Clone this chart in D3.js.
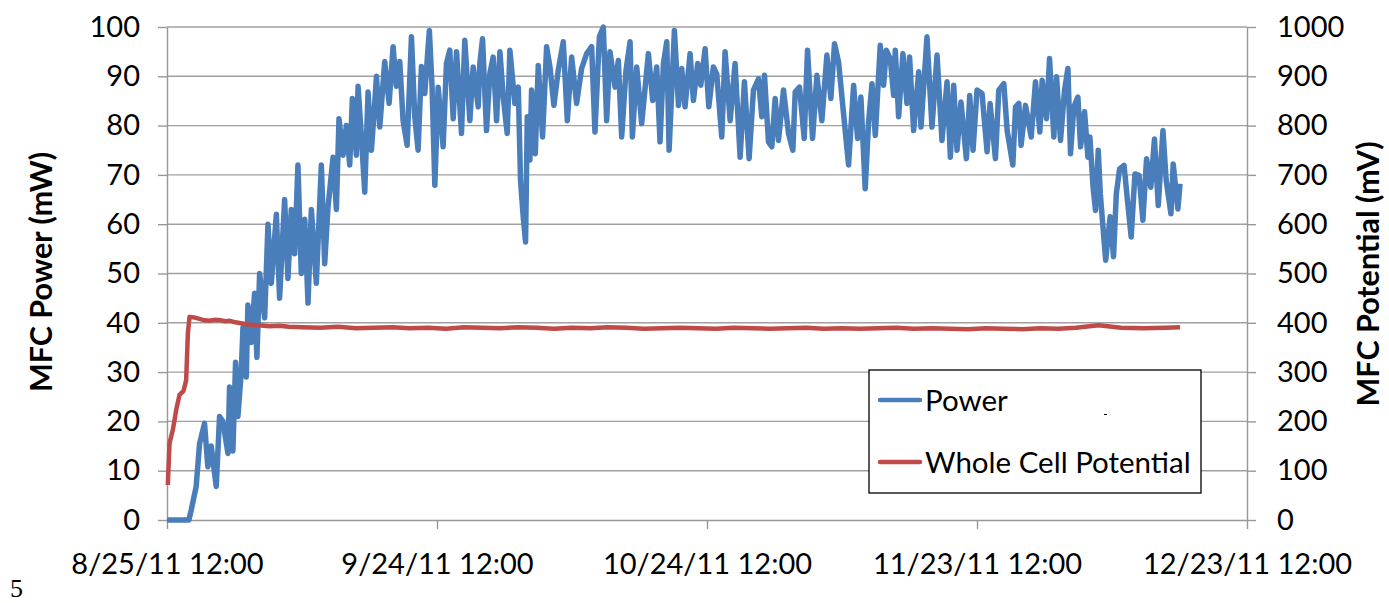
<!DOCTYPE html>
<html>
<head>
<meta charset="utf-8">
<script src="https://cdn.jsdelivr.net/npm/d3@7"></script>
<style>
  body { margin: 0; background: #fff; }
  svg { display: block; }
  .tick text { font-family: Lato, "Open Sans", sans-serif; font-size: 29px; fill: #000; }
  .domain, .tick line { stroke: #989898; stroke-width: 1.4px; }
</style>
</head>
<body>
<div id="chart"></div>
<script>
// Start of the x axis and tick labels.
var startDate = new Date(Date.UTC(2011, 7, 25, 12));
var xTickDays = [0, 30, 60, 90, 120];
var xTickLabels = ["8/25/11 12:00", "9/24/11 12:00", "10/24/11 12:00", "11/23/11 12:00", "12/23/11 12:00"];
var powerTicks = [0, 10, 20, 30, 40, 50, 60, 70, 80, 90, 100];
var potentialTicks = [0, 100, 200, 300, 400, 500, 600, 700, 800, 900, 1000];

// Power (mW): days since start and value.
var powerDays = [0, 2.43, 2.69, 3.24, 3.62, 4.17, 4.54, 4.91, 5.47, 5.84, 6.21, 6.77, 6.95, 7.32, 7.62, 7.88,
  8.25, 8.44, 8.81, 8.99, 9.36, 9.73, 9.99, 10.29, 10.85, 11.22, 11.59, 12.15, 12.51, 13.07, 13.44, 13.81,
  14.18, 14.55, 14.92, 15.3, 15.67, 16.04, 16.59, 17.15, 17.52, 17.89, 18.45, 18.82, 19.11, 19.56, 19.93,
  20.3, 20.6, 21.04, 21.23, 21.6, 21.97, 22.34, 22.71, 23.08, 23.27, 23.64, 24.19, 24.68, 25.12, 25.49,
  25.86, 26.23, 26.68, 27.16, 27.53, 27.9, 28.27, 28.64, 29.15, 29.45, 29.76, 30.13, 30.68, 31.05, 31.42,
  31.8, 32.17, 32.72, 33.09, 33.65, 34.02, 34.58, 34.76, 35.06, 35.5, 35.87, 36.24, 36.62, 36.99, 37.36,
  37.8, 38.1, 38.65, 39.03, 39.28, 39.58, 39.84, 40.03, 40.32, 40.51, 40.92, 41.25, 41.73, 42.18, 42.55,
  42.99, 43.47, 44.03, 44.48, 44.96, 45.51, 46.07, 46.63, 47.18, 47.55, 48.04, 48.48, 48.85, 49.22, 49.78,
  50.15, 50.52, 51.0, 51.45, 51.71, 52.19, 52.74, 53.49, 53.97, 54.41, 54.78, 55.16, 55.53, 55.79, 56.38,
  56.83, 57.19, 57.56, 58.12, 58.49, 58.97, 59.31, 59.79, 60.2, 60.71, 61.08, 61.64, 62.01, 62.57, 63.12,
  63.68, 64.16, 64.68, 65.16, 65.72, 66.09, 66.39, 66.83, 67.2, 67.57, 67.94, 68.5, 69.06, 69.54, 69.8,
  70.28, 70.8, 71.17, 71.73, 72.21, 72.76, 73.32, 73.76, 74.17, 74.62, 75.1, 75.73, 76.29, 76.73, 77.1,
  77.58, 77.95, 78.33, 78.7, 79.25, 79.62, 79.92, 80.36, 80.74, 80.92, 81.29, 81.77, 82.22, 82.51, 82.96,
  83.52, 83.78, 84.44, 85.0, 85.56, 86.11, 86.67, 87.04, 87.41, 87.78, 88.22, 88.82, 89.19, 89.56, 90.0,
  90.56, 91.12, 91.45, 92.05, 92.42, 92.98, 93.35, 93.98, 94.28, 94.65, 94.9, 95.39, 96.02, 96.5, 96.98,
  97.24, 97.72, 98.06, 98.54, 98.84, 99.28, 99.73, 100.1, 100.39, 100.76, 101.21, 101.51, 101.95, 102.32,
  102.54, 102.9, 103.17, 103.47, 103.7, 104.0, 104.3, 104.79, 105.17, 105.48, 105.84, 106.34, 106.72,
  107.13, 107.55, 108.01, 108.43, 108.84, 109.31, 109.72, 110.14, 110.66, 111.02, 111.55, 111.8, 112.32, 112.56];
var powerValues = [0, 0, 2, 6.8, 15.5, 19.6, 10.8, 15, 6.8, 21, 20, 13.5, 27, 14, 32, 21,
  30, 39, 29, 43.6, 36, 46, 33, 50, 41, 60, 48, 62, 45, 65, 49, 63,
  54, 72, 50, 61, 44, 63, 48, 72, 52, 63.5, 73.6, 63, 81.4, 74, 80,
  72, 85.5, 74, 88, 77.7, 66.5, 86.8, 75, 84.5, 90, 79.7, 93, 84.5, 96, 88,
  93, 81, 76, 98, 81.8, 75, 92, 86.5, 99.3, 88, 67.9, 87.8, 75.7, 92.6, 95.3,
  81.4, 95, 78.4, 97.3, 81, 91.9, 83.8, 92.6, 97.6, 79, 90.5, 93.9, 81, 95, 85.8,
  78.4, 95.3, 84.5, 87.8, 68.9, 61.5, 56.4, 81.8, 73, 87.2, 74.3, 92.2, 77.7, 96, 91.9,
  84.1, 91.2, 97, 81, 93.9, 84.5, 91.6, 94.6, 96, 78.7, 98, 100, 81, 95, 87.8,
  93.2, 77.7, 91.2, 97, 77.7, 91.9, 80.4, 94.6, 85.1, 91.9, 76.7, 92.6, 97, 75, 99.3,
  84.1, 91.6, 83.8, 94.6, 85.1, 92.6, 88.2, 95.6, 83.8, 91.9, 90.5, 77.7, 95, 81, 92.6,
  73.6, 88.9, 73.3, 87.2, 89.5, 81.8, 90.2, 76.7, 75.7, 85.5, 77, 87.2, 78.4, 75, 86.8,
  87.8, 77.4, 95.3, 77.4, 90.2, 81, 94.3, 85.5, 96.6, 92.9, 83.8, 72, 88.2, 77.4, 85.8,
  67.2, 80.7, 88.5, 78, 96.3, 88.2, 95.3, 93.6, 86.1, 95.3, 81.8, 94.6, 84.5, 93.9, 79,
  90.9, 79.7, 98, 79.7, 94.3, 77, 88.9, 73.6, 88.2, 75, 84.8, 73.3, 86.1, 75, 87.2,
  86.5, 74.7, 84.5, 73.3, 87.2, 88.5, 79, 72, 83.8, 84.5, 76, 84.1, 77.7, 88.9, 78.7,
  89.2, 81.4, 93.6, 77.7, 89.9, 77, 87.2, 91.6, 74.3, 83.8, 85.8, 75.7, 82.8, 73.6,
  77.7, 67.5, 62.8, 75, 66.2, 59.4, 52.7, 61.5, 53.4, 66.2, 71.2, 71.9, 64.8,
  57.4, 70.2, 69.9, 60.8, 73.3, 67.5, 77.3, 63.8, 79, 68.9, 62.1, 72.2, 63.1, 68.2];

// Whole cell potential (mV).
var potentialDays = [0.09, 0.28, 0.65, 1.02, 1.39, 1.84, 2.13, 2.32, 2.5, 3.0, 3.6, 4.2, 4.7, 5.3, 6.0, 6.5,
  7.0, 7.6, 8.2, 9.2, 10.2, 11.4, 12.5, 13.5, 15, 17, 19, 21, 23, 25, 27, 29, 31, 33, 35, 37, 39, 41, 43,
  45, 47, 49, 51, 53, 55, 57, 59, 61, 63, 65, 67, 69, 71, 73, 75, 77, 79, 81, 83, 85, 87, 89, 91, 93, 95,
  97, 99, 101, 102.5, 103.5, 106, 108.5, 111, 112.56];
var potentialValues = [71, 156, 183, 223, 254, 262, 284, 379, 412, 411, 408, 405, 404, 406, 405, 403,
  404, 401, 399, 396, 395, 393, 394, 392, 391, 390, 392, 389, 390, 391, 389, 390, 388, 391, 390, 389,
  391, 390, 388, 390, 389, 391, 390, 388, 389, 390, 389, 388, 390, 389, 388, 389, 390, 388, 389, 388,
  389, 390, 388, 389, 388, 387, 389, 388, 387, 389, 388, 390, 393, 395, 390, 389, 390, 391];

var margin = { top: 27, right: 142, bottom: 83, left: 167 },
    svgWidth = 1389,
    svgHeight = 603,
    chartWidth = svgWidth - margin.left - margin.right,
    chartHeight = svgHeight - margin.top - margin.bottom;

var svg = d3.select("#chart")
    .append("svg")
    .attr("width", svgWidth)
    .attr("height", svgHeight);

var chartGroup = svg.append("g")
    .attr("transform", `translate(${margin.left}, ${margin.top})`);

function dayToDate(d) {
    return new Date(startDate.getTime() + d * 864e5);
}

// Scales.
var xScale = d3.scaleUtc()
    .domain([startDate, dayToDate(120)])
    .range([0, chartWidth]);
var yLeft = d3.scaleLinear().domain([0, 100]).range([chartHeight, 0]);
var yRight = d3.scaleLinear().domain([0, 1000]).range([chartHeight, 0]);

// Gridlines.
chartGroup.append("g")
    .selectAll("line")
    .data(powerTicks.slice(1))
    .enter()
    .append("line")
    .attr("x1", 0)
    .attr("x2", chartWidth)
    .attr("y1", d => yLeft(d))
    .attr("y2", d => yLeft(d))
    .attr("stroke", "#a0a0a0")
    .attr("stroke-width", 1.4);

// Axes.
var leftAxis = d3.axisLeft(yLeft).tickValues(powerTicks).tickSize(9).tickSizeOuter(0).tickPadding(18);
var rightAxis = d3.axisRight(yRight).tickValues(potentialTicks).tickFormat(d3.format("d"))
    .tickSize(9).tickSizeOuter(0).tickPadding(21);
var bottomAxis = d3.axisBottom(xScale)
    .tickValues(xTickDays.map(dayToDate))
    .tickFormat((d, i) => xTickLabels[i])
    .tickSize(9).tickSizeOuter(0).tickPadding(24);

chartGroup.append("g").call(leftAxis);
chartGroup.append("g")
    .attr("transform", `translate(${chartWidth}, 0)`)
    .call(rightAxis);
chartGroup.append("g")
    .attr("transform", `translate(0, ${chartHeight})`)
    .call(bottomAxis);

// Series lines.
var powerLine = d3.line()
    .x((d, i) => xScale(dayToDate(powerDays[i])))
    .y(d => yLeft(d));
var potentialLine = d3.line()
    .x((d, i) => xScale(dayToDate(potentialDays[i])))
    .y(d => yRight(d));

chartGroup.append("path")
    .attr("d", powerLine(powerValues))
    .attr("fill", "none")
    .attr("stroke", "#4a7ebb")
    .attr("stroke-width", 5.5)
    .attr("stroke-linejoin", "round");

chartGroup.append("path")
    .attr("d", potentialLine(potentialValues))
    .attr("fill", "none")
    .attr("stroke", "#be4b48")
    .attr("stroke-width", 4.5)
    .attr("stroke-linejoin", "round");

// Axis titles.
svg.append("text")
    .attr("transform", "translate(52, 272) rotate(-90)")
    .attr("text-anchor", "middle")
    .style("font-family", "Lato, sans-serif")
    .style("font-size", "30.5px")
    .style("font-weight", "bold")
    .text("MFC Power (mW)");

svg.append("text")
    .attr("transform", "translate(1379, 274) rotate(-90)")
    .attr("text-anchor", "middle")
    .style("font-family", "Lato, sans-serif")
    .style("font-size", "30.5px")
    .style("font-weight", "bold")
    .text("MFC Potential (mV)");

// Legend.
var legend = svg.append("g");
legend.append("rect")
    .attr("x", 869).attr("y", 370)
    .attr("width", 332).attr("height", 123)
    .attr("fill", "#fff")
    .attr("stroke", "#000")
    .attr("stroke-width", 1.3);

var legendItems = [
    { label: "Power", color: "#4a7ebb", y: 400 },
    { label: "Whole Cell Potential", color: "#be4b48", y: 462 }
];
legendItems.forEach(function(item) {
    legend.append("line")
        .attr("x1", 880).attr("x2", 920)
        .attr("y1", item.y).attr("y2", item.y)
        .attr("stroke", item.color)
        .attr("stroke-width", 4.5)
        .attr("stroke-linecap", "round");
    legend.append("text")
        .attr("x", 925).attr("y", item.y)
        .attr("dy", "0.36em")
        .style("font-family", "Lato, sans-serif")
        .style("font-size", "29.5px")
        .text(item.label);
});
// stray mark inside the legend box
legend.append("line")
    .attr("x1", 1104).attr("x2", 1107)
    .attr("y1", 414.5).attr("y2", 414.5)
    .attr("stroke", "#000").attr("stroke-width", 1);

// Page number.
svg.append("text")
    .attr("x", 10).attr("y", 597)
    .style("font-family", "Liberation Serif, serif")
    .style("font-size", "26px")
    .text("5");
</script>
</body>
</html>
